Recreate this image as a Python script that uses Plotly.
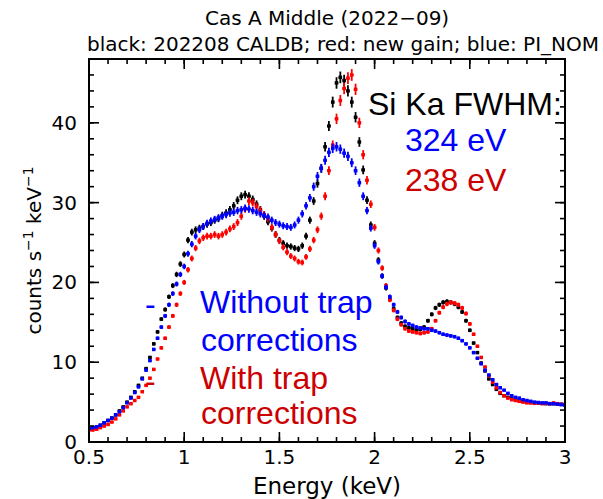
import plotly.graph_objects as go

# Energy grid (keV)
energy = [round(0.50 + 0.02 * i, 2) for i in range(126)]

black_caldb = [
    1.7, 1.8, 1.9, 2.1, 2.4, 2.7, 3.0, 3.4, 3.9, 4.4,
    5.0, 5.6, 6.3, 7.1, 8.0, 9.2, 10.6, 12.3, 13.8, 15.4,
    16.6, 18.2, 19.6, 21.0, 22.3, 23.5, 25.3, 26.3, 26.6, 26.8,
    27.0, 27.3, 27.5, 27.8, 28.0, 28.4, 28.7, 29.1, 29.6, 30.3,
    30.8, 31.0, 30.8, 30.4, 29.8, 29.1, 28.3, 27.6, 26.8, 26.0,
    25.3, 24.9, 24.6, 24.5, 24.3, 24.2, 24.6, 25.8, 27.8, 30.2,
    32.4, 34.3, 37.0, 39.6, 42.6, 45.0, 45.7, 45.3, 44.0, 42.6,
    40.7, 37.6, 34.1, 30.3, 27.2, 24.9, 22.8, 20.8, 19.3, 17.9,
    16.7, 15.6, 14.9, 14.5, 14.3, 14.2, 14.0, 14.1, 14.4, 15.2,
    16.0, 16.8, 17.2, 17.5, 17.6, 17.5, 17.3, 16.9, 16.3, 15.2,
    14.0, 12.4, 11.2, 9.9, 8.9, 7.9, 7.2, 6.6, 6.1, 5.8,
    5.6, 5.4, 5.3, 5.2, 5.1, 5.0, 4.95, 4.9, 4.9, 4.85,
    4.8, 4.8, 4.8, 4.75, 4.7, 4.7,
]

red_newgain = [
    1.5, 1.5, 1.6, 1.8, 2.0, 2.2, 2.5, 2.9, 3.4, 3.9,
    4.4, 4.8, 5.2, 5.6, 6.3, 7.1, 8.0, 9.1, 10.4, 11.8,
    13.0, 14.4, 15.8, 17.2, 18.6, 20.0, 21.6, 23.0, 24.3, 25.2,
    25.6, 25.8, 25.8, 26.0, 25.8, 26.0, 26.3, 26.7, 27.0, 27.5,
    28.3, 29.2, 30.2, 30.0, 29.5, 29.0, 28.5, 28.0, 26.9, 26.0,
    25.2, 24.4, 23.8, 23.3, 23.0, 22.6, 22.5, 23.2, 24.2, 25.3,
    26.6, 28.3, 30.8, 34.0, 37.2, 40.5, 42.8, 44.3, 45.6, 46.0,
    44.2, 40.0, 36.0, 32.8, 29.8, 26.9, 24.0, 21.8, 19.6, 17.8,
    16.5, 15.4, 14.7, 14.2, 13.9, 13.8, 13.7, 13.6, 13.7, 13.8,
    14.2, 15.2, 16.2, 16.9, 17.3, 17.5, 17.4, 17.2, 16.8, 16.1,
    14.8, 13.5, 12.0, 10.6, 9.4, 8.3, 7.5, 6.8, 6.2, 5.8,
    5.5, 5.3, 5.2, 5.1, 5.0, 4.9, 4.9, 4.85, 4.9, 4.8,
    4.85, 4.8, 4.9, 4.8, 4.75, 4.7,
]

blue_pinom = [
    1.7, 1.8, 1.9, 2.1, 2.4, 2.7, 3.0, 3.4, 3.8, 4.3,
    4.9, 5.5, 6.2, 6.9, 7.9, 9.0, 10.2, 11.6, 13.0, 14.4,
    15.8, 17.2, 18.6, 19.8, 21.0, 22.0, 23.6, 24.8, 25.8, 26.6,
    27.0, 27.4, 27.7, 27.9, 28.1, 28.3, 28.5, 28.7, 28.8, 29.0,
    29.1, 29.3, 29.2, 29.0, 28.8, 28.6, 28.4, 28.2, 27.8, 27.5,
    27.3, 27.1, 27.0, 26.9, 27.2, 27.8, 28.6, 29.6, 30.6, 32.0,
    33.3, 34.3, 35.3, 36.3, 36.8, 37.0, 36.7, 36.2, 35.8, 35.0,
    34.0, 32.5, 30.8, 29.0, 26.8, 24.6, 22.6, 20.8, 19.4, 18.2,
    17.2, 16.3, 15.6, 15.1, 14.8, 14.6, 14.4, 14.3, 14.2, 14.2,
    14.0, 13.9, 13.7, 13.5, 13.4, 13.3, 13.2, 13.0, 12.7, 12.3,
    11.8, 11.2, 10.5, 9.8, 9.0, 8.4, 7.8, 7.2, 6.8, 6.5,
    6.1, 5.8, 5.6, 5.5, 5.3, 5.2, 5.1, 5.0, 4.95, 4.9,
    4.9, 4.8, 4.8, 4.75, 4.7, 4.6,
]

x_tickvals = [0.5, 1, 1.5, 2, 2.5, 3]
x_ticktext = ["0.5", "1", "1.5", "2", "2.5", "3"]
y_tickvals = [0, 10, 20, 30, 40]
y_ticktext = ["0", "10", "20", "30", "40"]
x_minor = [round(0.5 + 0.1 * i, 1) for i in range(26)]
y_minor = [2 * i for i in range(25)]

x_range = [0.5, 3]
y_range = [0, 48]

series = [
    ("202208 CALDB", black_caldb, "#000000"),
    ("new gain", red_newgain, "#ff0000"),
    ("PI_NOM", blue_pinom, "#0000ff"),
]

fig = go.Figure()
for name, vals, col in series:
    fig.add_trace(go.Scatter(
        x=energy, y=vals, mode="markers", name=name,
        marker=dict(size=3.5, color=col, symbol="square"),
        error_y=dict(type="percent", value=1.6, color=col, thickness=1.8, width=0),
        error_x=dict(type="constant", value=0.009, color=col, thickness=2, width=0),
        showlegend=False,
    ))

axis_font = dict(family="DejaVu Sans", size=20, color="black")

fig.update_layout(
    template="none",
    xaxis=dict(
        range=x_range, tickmode="array", tickvals=x_tickvals, ticktext=x_ticktext,
        ticks="", showline=False, showgrid=False, zeroline=False, tickfont=axis_font,
        ticklabelstandoff=1,
        title=dict(text="Energy (keV)", font=dict(family="DejaVu Sans", size=23, color="black"), standoff=9),
    ),
    yaxis=dict(
        range=y_range, tickmode="array", tickvals=y_tickvals, ticktext=y_ticktext,
        ticks="", showline=False, showgrid=False, zeroline=False, tickfont=axis_font,
        ticklabelstandoff=11,
        title=dict(text="counts s<sup>−1</sup> keV<sup>−1</sup>",
                   font=dict(family="DejaVu Sans", size=20, color="black"), standoff=4),
    ),
)

# frame and tick marks (inside, on all four sides), placed on the axes' own scales
tick_line = dict(color="black", width=1.6)
shapes = [dict(type="rect", xref="paper", yref="paper", x0=0, y0=0, x1=1, y1=1,
               line=dict(color="black", width=2), layer="above")]
for vals, ln in ((x_minor, 5), (x_tickvals, 10)):
    for v in vals:
        shapes.append(dict(type="line", xref="x", yref="paper", x0=v, x1=v,
                           ysizemode="pixel", yanchor=0, y0=0, y1=ln, line=tick_line, layer="above"))
        shapes.append(dict(type="line", xref="x", yref="paper", x0=v, x1=v,
                           ysizemode="pixel", yanchor=1, y0=0, y1=-ln, line=tick_line, layer="above"))
for vals, ln in ((y_minor, 5), (y_tickvals, 10)):
    for v in vals:
        shapes.append(dict(type="line", yref="y", xref="paper", y0=v, y1=v,
                           xsizemode="pixel", xanchor=0, x0=0, x1=ln, line=tick_line, layer="above"))
        shapes.append(dict(type="line", yref="y", xref="paper", y0=v, y1=v,
                           xsizemode="pixel", xanchor=1, x0=0, x1=-ln, line=tick_line, layer="above"))
fig.update_layout(shapes=shapes)

big_family = "Liberation Sans, Arial"
big_size = 32
annots = [
    ("Si Ka FWHM:", 1.955, 42.4, "black"),
    ("324 eV", 2.15, 37.8, "#0000ff"),
    ("238 eV", 2.15, 32.8, "#cc0000"),
    ("-", 0.785, 17.3, "#0000ff"),
    ("Without trap", 1.07, 17.6, "#0000ff"),
    ("corrections", 1.08, 12.8, "#0000ff"),
    ("-", 0.785, 7.7, "#cc0000"),
    ("With trap", 1.07, 8.0, "#cc0000"),
    ("corrections", 1.08, 3.6, "#cc0000"),
]
for txt, ax_, ay_, c in annots:
    fig.add_annotation(x=ax_, y=ay_, xref="x", yref="y", text=txt, showarrow=False,
                       xanchor="left", yanchor="middle",
                       font=dict(family=big_family, size=big_size, color=c))

fig.add_annotation(x=0.5, y=1, xref="paper", yref="paper", xanchor="center", yanchor="middle",
                   yshift=41, text="Cas A Middle (2022−09)", showarrow=False,
                   font=dict(family="DejaVu Sans", size=20, color="black"))
fig.add_annotation(x=0.5, y=1, xref="paper", yref="paper", xanchor="center", yanchor="middle",
                   yshift=15, xshift=16, text="black: 202208 CALDB; red: new gain; blue: PI_NOM",
                   showarrow=False, font=dict(family="DejaVu Sans", size=20, color="black"))

fig.update_layout(
    width=603, height=499,
    margin=dict(l=89, r=38, t=59, b=57),
    paper_bgcolor="white", plot_bgcolor="white",
)

fig.write_html("out.html")
